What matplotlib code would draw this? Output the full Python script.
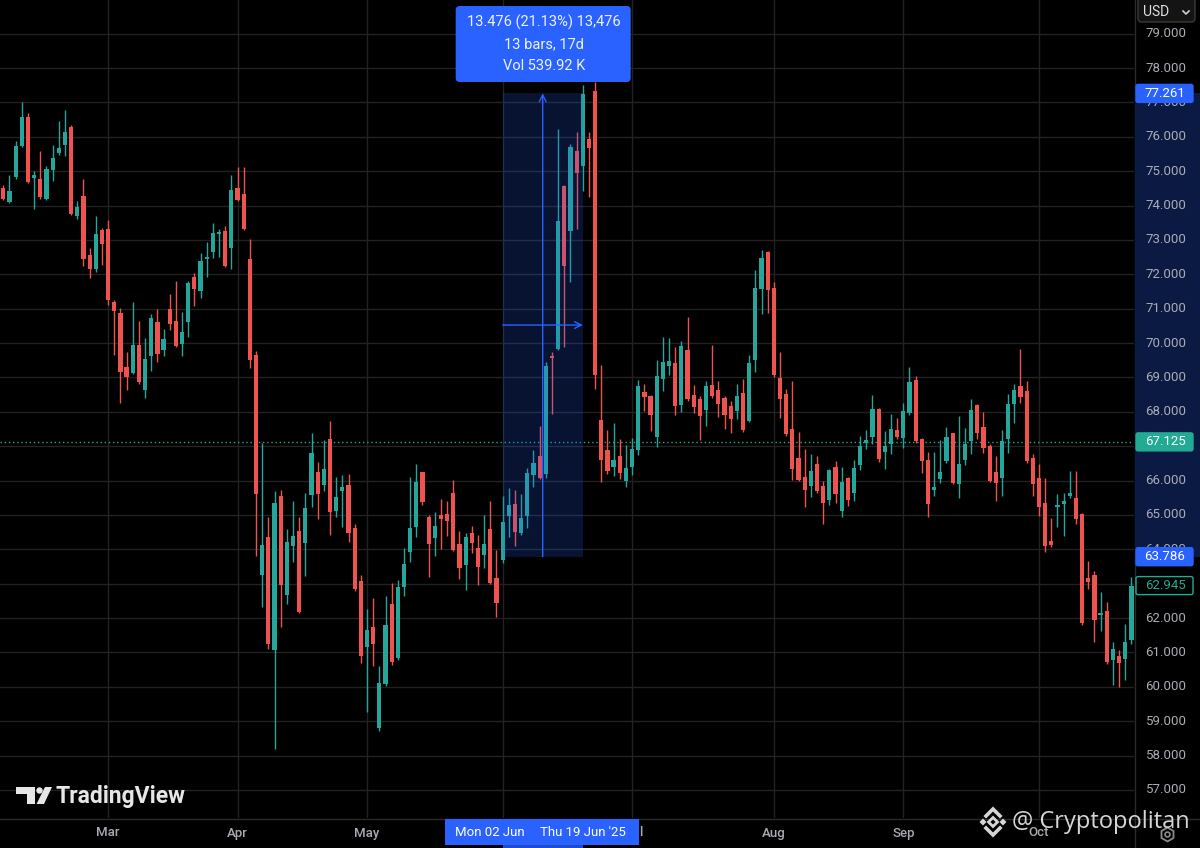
import numpy as np
import matplotlib
matplotlib.use("Agg")
import matplotlib.pyplot as plt
from matplotlib.patches import Rectangle, FancyBboxPatch, Polygon, Circle

plt.rcParams["font.family"] = ["Roboto", "DejaVu Sans"]

# daily OHLC, one entry per trading bar
opens = [
	74.51, 74.10, 74.82, 75.72, 76.57, 74.80, 74.78, 74.20, 75.03, 75.53,
	75.75, 76.27, 73.70, 74.28, 72.56, 72.15, 73.29, 73.33, 71.20, 70.86,
	69.29, 69.14, 69.94, 68.62, 69.63, 70.62, 69.80, 71.00, 70.63, 69.98,
	70.60, 71.92, 71.52, 72.44, 72.65, 73.17, 73.26, 72.75, 74.51, 74.34,
	72.44, 69.64, 63.25, 64.37, 61.08, 65.56, 62.67, 64.10, 64.52, 64.17,
	65.57, 66.26, 65.86, 67.20, 65.11, 65.69, 65.86, 64.62, 63.07, 61.16,
	61.73, 58.81, 60.09, 62.42, 60.85, 62.90, 63.91, 64.66, 66.24, 64.94,
	64.33, 65.00, 65.03, 65.63, 64.16, 63.54, 64.48, 64.03, 63.83, 64.58,
	63.17, 63.68, 64.96, 65.32, 64.48, 64.97, 66.15, 66.72, 66.20, 69.62,
	69.83, 74.57, 73.25, 75.59, 75.14, 75.93, 77.33, 67.76, 66.88, 66.39,
	66.72, 66.00, 66.39, 66.90, 68.58, 68.46, 67.26, 68.94, 69.34, 69.42,
	68.19, 69.79, 68.50, 68.36, 68.05, 68.79, 68.63, 68.41, 68.18, 68.02,
	68.55, 67.73, 69.52, 71.57, 72.64, 71.61, 68.99, 68.52, 67.51, 66.65,
	66.09, 65.85, 66.47, 65.83, 65.44, 66.38, 65.12, 66.06, 65.65, 66.45,
	67.08, 67.28, 68.09, 66.84, 67.05, 67.47, 67.23, 67.97, 68.92, 67.22,
	66.60, 65.73, 66.04, 66.57, 67.37, 65.89, 66.60, 67.15, 68.21, 67.57,
	67.00, 66.25, 66.06, 67.22, 68.24, 68.74, 68.60, 66.67, 66.06, 65.34,
	64.24, 65.24, 65.31, 65.56, 65.48, 65.02, 63.16, 63.24, 62.10, 62.20,
	60.77, 60.90, 60.82, 61.35,
]
highs = [
	74.60, 74.90, 75.87, 77.00, 76.69, 75.00, 75.58, 75.14, 75.76, 76.45,
	76.77, 76.35, 74.13, 74.76, 72.77, 73.69, 73.35, 73.58, 71.25, 71.03,
	69.73, 71.20, 70.65, 70.16, 70.84, 70.98, 70.42, 71.42, 71.80, 70.89,
	71.80, 72.03, 72.63, 72.94, 73.48, 73.33, 73.40, 74.90, 75.12, 75.12,
	73.04, 69.78, 67.10, 64.94, 65.69, 65.72, 64.60, 65.40, 64.94, 65.63,
	67.37, 66.55, 67.18, 67.72, 66.09, 66.15, 66.18, 64.74, 63.25, 62.25,
	62.57, 60.62, 62.65, 63.02, 63.10, 64.03, 66.11, 66.49, 66.26, 65.00,
	65.09, 65.46, 65.42, 66.03, 64.54, 64.48, 64.68, 64.43, 65.00, 65.40,
	63.97, 65.54, 65.78, 65.72, 65.61, 66.36, 66.88, 67.58, 69.46, 69.73,
	76.23, 74.60, 75.80, 76.15, 77.52, 76.15, 77.58, 69.35, 67.47, 67.68,
	67.20, 67.04, 67.25, 68.92, 68.80, 68.50, 69.50, 70.18, 70.14, 69.88,
	70.05, 70.77, 68.79, 68.45, 68.89, 69.93, 68.89, 68.45, 68.31, 68.81,
	68.96, 69.66, 72.13, 72.72, 72.68, 71.79, 69.73, 68.65, 68.89, 67.41,
	66.91, 66.76, 66.71, 65.99, 66.35, 66.57, 66.38, 66.10, 66.60, 67.29,
	67.47, 68.48, 68.12, 67.45, 67.95, 67.83, 68.26, 69.30, 69.03, 67.25,
	66.83, 66.83, 67.18, 67.57, 67.39, 67.87, 67.54, 68.36, 68.24, 67.99,
	67.05, 66.71, 67.47, 68.53, 68.82, 69.83, 68.89, 66.76, 66.47, 66.06,
	64.90, 65.60, 65.65, 66.28, 66.28, 65.05, 63.67, 63.38, 62.75, 62.48,
	61.29, 61.06, 61.84, 63.20,
]
lows = [
	74.15, 74.08, 74.78, 75.69, 74.65, 73.90, 74.20, 74.15, 74.71, 75.48,
	75.43, 73.72, 73.62, 72.24, 71.90, 72.07, 72.26, 71.12, 69.65, 68.25,
	68.62, 69.10, 68.80, 68.39, 69.20, 69.44, 69.63, 70.38, 69.88, 69.61,
	70.18, 71.08, 71.32, 71.92, 72.48, 72.51, 72.20, 72.16, 74.12, 73.29,
	69.26, 63.80, 62.31, 61.10, 58.18, 61.73, 62.42, 63.62, 62.15, 63.22,
	65.23, 64.89, 65.69, 64.43, 64.94, 64.66, 64.20, 62.80, 60.70, 59.27,
	60.61, 58.73, 60.03, 60.64, 60.79, 62.65, 63.62, 64.37, 65.30, 63.19,
	63.82, 64.00, 64.40, 63.95, 63.13, 62.82, 63.89, 62.97, 63.47, 63.00,
	62.02, 63.60, 64.35, 64.10, 64.43, 64.62, 65.82, 66.04, 66.07, 67.95,
	69.80, 69.89, 71.77, 73.33, 74.43, 74.24, 68.65, 65.96, 66.20, 66.13,
	66.04, 65.80, 66.15, 66.74, 68.01, 67.45, 66.97, 68.60, 69.08, 67.92,
	67.99, 68.30, 67.97, 67.17, 67.60, 68.40, 67.86, 67.49, 67.37, 67.78,
	67.40, 67.70, 69.15, 70.85, 70.87, 69.00, 67.81, 67.30, 66.02, 65.98,
	65.22, 65.51, 65.65, 64.73, 65.29, 65.36, 64.93, 65.27, 65.41, 66.30,
	66.93, 67.05, 66.55, 66.33, 66.76, 67.20, 66.96, 67.92, 67.10, 66.21,
	64.93, 65.56, 65.94, 66.50, 65.90, 65.48, 66.44, 66.76, 67.22, 66.81,
	65.95, 65.41, 65.56, 66.81, 67.66, 68.26, 66.50, 65.56, 64.98, 63.93,
	64.06, 64.64, 64.40, 65.48, 64.73, 61.81, 62.85, 61.30, 61.61, 60.65,
	60.05, 60.00, 60.19, 61.25,
]
closes = [
	74.20, 74.42, 75.72, 76.57, 74.69, 74.90, 74.24, 75.07, 75.38, 75.67,
	76.13, 73.76, 73.96, 72.44, 72.16, 73.16, 72.87, 71.26, 70.92, 69.15,
	69.02, 69.94, 68.86, 69.53, 70.74, 69.68, 70.13, 70.55, 69.92, 70.33,
	71.74, 71.58, 72.39, 72.48, 73.21, 73.21, 72.24, 74.44, 74.16, 73.31,
	69.50, 65.61, 64.14, 61.24, 65.34, 62.97, 64.22, 64.39, 62.19, 65.21,
	66.81, 65.61, 66.34, 65.09, 65.52, 65.80, 64.48, 62.86, 60.91, 61.65,
	61.24, 60.10, 61.79, 60.72, 62.90, 63.57, 64.62, 65.97, 65.37, 64.16,
	64.69, 64.89, 64.83, 63.97, 63.47, 64.35, 64.17, 63.49, 64.16, 63.03,
	62.44, 64.80, 65.29, 64.51, 64.91, 66.23, 66.50, 66.07, 69.33, 69.57,
	73.54, 72.25, 75.70, 74.96, 77.25, 75.67, 69.08, 66.61, 66.29, 66.61,
	66.23, 66.36, 66.93, 68.75, 68.44, 67.90, 69.03, 69.45, 69.49, 68.16,
	69.90, 68.38, 68.14, 67.89, 68.76, 68.45, 68.23, 67.92, 67.78, 68.45,
	67.46, 69.42, 71.61, 72.48, 71.55, 69.06, 68.38, 67.34, 66.33, 66.02,
	65.73, 66.28, 65.70, 65.34, 66.31, 65.60, 65.96, 65.44, 66.37, 67.00,
	67.17, 68.07, 66.62, 67.01, 67.49, 67.28, 68.02, 68.86, 67.15, 66.57,
	65.31, 65.80, 66.25, 67.28, 65.94, 66.49, 67.05, 68.05, 67.39, 66.96,
	65.99, 65.94, 67.15, 68.24, 68.63, 68.43, 66.57, 65.89, 65.22, 64.09,
	64.13, 65.28, 65.41, 65.65, 64.88, 61.86, 63.04, 61.93, 62.14, 60.71,
	61.11, 60.68, 61.29, 62.945,
]

month_labels = ["Mar", "Apr", "May", "Jun", "Jul", "Aug", "Sep", "Oct"]
month_bars = [17, 38, 59, 81, 102, 125, 146, 168]
price_ticks = list(range(57, 80))

range_start, range_end = 81, 94
range_low, range_high = 63.786, 77.261
range_lines = ["13.476 (21.13%) 13,476", "13 bars, 17d", "Vol 539.92 K"]
range_dates = ["Mon 02 Jun", "Thu 19 Jun '25"]
price_line = 67.125
last_price = closes[-1]

UP, DOWN = "#26a69a", "#ef5350"
BLUE = "#2962ff"
GRID = "#222222"
TXT = "#a9acb4"

fig = plt.figure(figsize=(12, 8.48), dpi=100, facecolor="black")
ax = fig.add_axes([0, 30 / 848, 1134 / 1200, 818 / 848])
ax.set_facecolor("black")
ov = fig.add_axes([0, 0, 1, 1], zorder=5)
ov.set_xlim(0, 1200)
ov.set_ylim(848, 0)
ov.axis("off")
ov.patch.set_alpha(0)

o = np.array(opens)
h = np.array(highs)
l = np.array(lows)
c = np.array(closes)
x = np.arange(len(o))
cols = np.where(c >= o, UP, DOWN)

ax.vlines(x, l, h, colors=cols, lw=1, zorder=2)
ax.bar(x, np.maximum(np.abs(c - o), 0.05), bottom=np.minimum(o, c), width=0.68,
	color=cols, linewidth=0, zorder=3)

ax.set_xlim(-0.535, 183.42)
ax.set_ylim(56.185, 79.978)
ax.set_xticks(month_bars)
ax.set_yticks(price_ticks)
ax.grid(color=GRID, lw=1)
ax.set_axisbelow(True)
ax.tick_params(length=0, labelleft=False, labelbottom=False)
for s in ax.spines.values():
	s.set_visible(False)

ax.axhline(price_line, color="#22ab94", lw=1, ls=(0, (1, 2)), zorder=1.5)

# measure range
ax.add_patch(Rectangle((range_start, range_low), range_end - range_start,
	range_high - range_low, facecolor=BLUE, alpha=0.2, lw=0, zorder=4))
mid_x = (range_start + range_end) / 2
mid_y = (range_low + range_high) / 2
ax.annotate("", xy=(mid_x, range_high), xytext=(mid_x, range_low),
	arrowprops=dict(arrowstyle="->", color=BLUE, lw=1, mutation_scale=12,
		shrinkA=0, shrinkB=0), zorder=5)
ax.annotate("", xy=(range_end, mid_y), xytext=(range_start, mid_y),
	arrowprops=dict(arrowstyle="->", color=BLUE, lw=1, mutation_scale=12,
		shrinkA=0, shrinkB=0), zorder=5)


def to_px(xv, yv):
	return ov.transData.inverted().transform(ax.transData.transform((xv, yv)))


tags = [
	(range_high, BLUE, BLUE, "white"),
	(price_line, "#22ab94", "#22ab94", "white"),
	(range_low, BLUE, BLUE, "white"),
	(last_price, "black", "#22ab94", "#22ab94"),
]

# price scale
ov.plot([1134.5, 1134.5], [0, 848], color="#2a2a2a", lw=1, zorder=1)
ov.plot([0, 1200], [818.5, 818.5], color="#2a2a2a", lw=1, zorder=1)
y_hi, y_lo = to_px(0, range_high)[1], to_px(0, range_low)[1]
ov.add_patch(Rectangle((1135, y_hi), 65, y_lo - y_hi, facecolor="#0b1a42", lw=0, zorder=1))
tag_px = [to_px(0, t[0])[1] for t in tags]
for p in price_ticks:
	yy = to_px(0, p)[1]
	if min(abs(yy - t) for t in tag_px) < 6:
		continue  # fully covered by a tag
	ov.text(1166, yy, f"{p:.3f}", ha="center", va="center",
		color=TXT, fontsize=9.5, zorder=2)

for p, face, edge, tc in tags:
	yy = to_px(0, p)[1]
	ov.add_patch(FancyBboxPatch((1136, yy - 9), 57, 18,
		boxstyle="round,pad=0,rounding_size=2", fc=face, ec=edge, lw=1, zorder=3))
	ov.text(1165, yy, f"{p:.3f}", ha="center", va="center", color=tc,
		fontsize=9.5, zorder=4)

# currency button
ov.add_patch(FancyBboxPatch((1138, -4), 57, 26, boxstyle="round,pad=0,rounding_size=4",
	fc="#141414", ec="#3a3a3a", lw=1, zorder=6))
ov.text(1156, 12, "USD", ha="center", va="center", color="#e0e0e0", fontsize=10, zorder=7)
ov.plot([1183, 1186, 1189], [11, 14, 11], color="#d0d0d0", lw=1.2, zorder=7)

# tooltip
cx = to_px(mid_x, 0)[0]
ov.add_patch(FancyBboxPatch((cx - 87, 6), 175, 76, boxstyle="round,pad=0,rounding_size=4",
	fc=BLUE, ec="none", zorder=6))
for i, t in enumerate(range_lines):
	ov.text(cx + 1, 22 + 22 * i, t, ha="center", va="center", color="#eef1ff",
		fontsize=10.5, zorder=7)

# time axis
x0, x1 = to_px(range_start, 0)[0], to_px(range_end, 0)[0]
for lab, b in zip(month_labels, month_bars):
	bx = to_px(b, 0)[0]
	if 445 < bx < 638:
		continue  # hidden under the date-range label
	ov.text(bx, 833, lab, ha="center", va="center", color=TXT,
		fontsize=9.5, fontweight="medium", zorder=2)
ov.text(643, 833, "l", ha="right", va="center", color=TXT, fontsize=9.5,
	fontweight="medium", zorder=2)
ov.add_patch(Rectangle((445, 819), 194, 26, fc=BLUE, lw=0, zorder=3))
ov.add_patch(Rectangle((x0, 845), x1 - x0, 3, fc="#1e4bd2", lw=0, zorder=3))
ov.text(490, 833, range_dates[0], ha="center", va="center", color="white", fontsize=9.5, zorder=4)
ov.text(x1, 833, range_dates[1], ha="center", va="center", color="white", fontsize=9.5, zorder=4)

# TradingView logo
lc = "#e6e6e6"
ov.add_patch(Polygon([(16, 787), (35, 787), (35, 804), (27, 804), (27, 794), (16, 794)],
	closed=True, fc=lc, ec="none", zorder=6))
ov.add_patch(Circle((39.5, 790.5), 3.2, fc=lc, ec="none", zorder=6))
ov.add_patch(Polygon([(45, 787), (52, 787), (44, 804), (36.5, 804)], closed=True,
	fc=lc, ec="none", zorder=6))
ov.text(56, 796, "TradingView", ha="left", va="center", color=lc, fontsize=16.5,
	fontweight="bold", zorder=6)

# watermark
wc = "#d6d6d6"
ov.plot([986, 993, 1000], [816, 809, 816], color=wc, lw=2.6, solid_joinstyle="miter", zorder=8)
ov.plot([986, 993, 1000], [828, 835, 828], color=wc, lw=2.6, solid_joinstyle="miter", zorder=8)
ov.add_patch(Polygon([(993, 817.5), (997.5, 822), (993, 826.5), (988.5, 822)], closed=True,
	fc="none", ec=wc, lw=2, zorder=8))
for dx in (-10, 10):
	ov.add_patch(Polygon([(993 + dx, 818.5), (996.5 + dx, 822), (993 + dx, 825.5),
		(989.5 + dx, 822)], closed=True, fc=wc, ec="none", zorder=8))
ov.text(1012, 822, "@ Cryptopolitan", ha="left", va="center", color=wc, fontsize=17,
	family=["Open Sans", "DejaVu Sans"], zorder=8)

# settings icon
ov.plot(1167, 834, marker="h", ms=10, mfc="none", mec="#8a8a8a", mew=1.3, zorder=6)
ov.plot(1167, 834, marker="o", ms=3.5, mfc="none", mec="#8a8a8a", mew=1.2, zorder=6)

fig.savefig("out.png", dpi=100, facecolor="black")
